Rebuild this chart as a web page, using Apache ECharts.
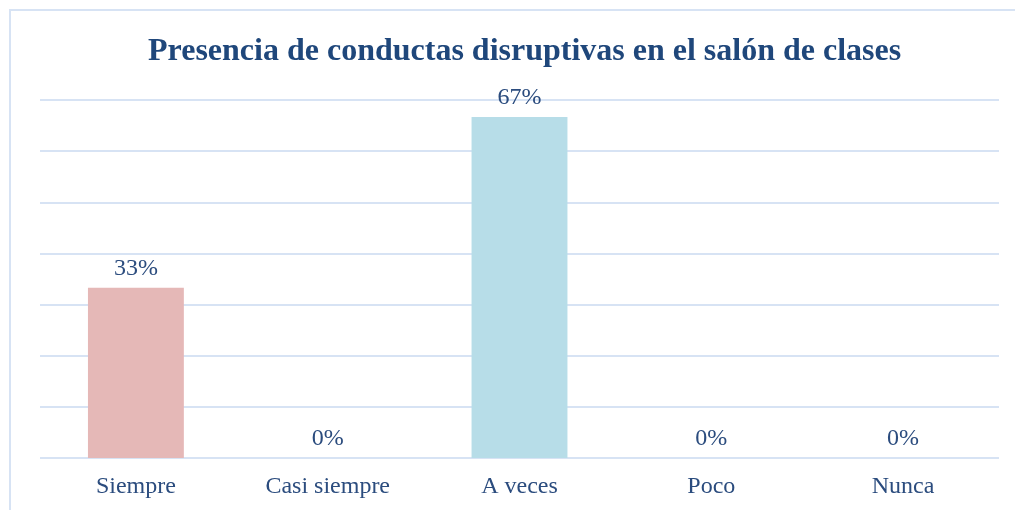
<!DOCTYPE html>
<html>
<head>
<meta charset="utf-8">
<script src="https://cdn.jsdelivr.net/npm/echarts@6/dist/echarts.min.js"></script>
<style>
html,body{margin:0;padding:0;background:#fff;}
#c{width:1015px;height:510px;}
</style>
</head>
<body>
<div id="c"></div>
<script>
const titleText = 'Presencia de conductas disruptivas en el salón de clases';
const categories = ['Siempre', 'Casi siempre', 'A veces', 'Poco', 'Nunca'];
const values = [33.3, 0, 66.7, 0, 0];
const barColors = ['#e5b8b7', '#d7e4bd', '#b7dde8', '#ccc1da', '#fcd5b5'];
const yTicks = [0, 10, 20, 30, 40, 50, 60, 70];

const chart = echarts.init(document.getElementById('c'));
chart.setOption({
  animation: false,
  backgroundColor: '#ffffff',
  title: {
    text: titleText,
    left: 143,
    top: 31,
    textStyle: {
      fontFamily: 'Liberation Serif',
      fontWeight: 'bold',
      fontSize: 32,
      color: '#1f477b'
    }
  },
  graphic: [{
    type: 'rect',
    shape: { x: 10, y: 10, width: 1200, height: 700 },
    style: { fill: 'none', stroke: '#d7e3f4', lineWidth: 2 },
    silent: true
  }],
  grid: { left: 40, right: 16, top: 100, bottom: 52, containLabel: false },
  xAxis: {
    type: 'category',
    data: categories,
    axisLine: { show: false },
    axisTick: { show: false },
    axisLabel: {
      margin: 17,
      fontFamily: 'Liberation Serif',
      fontSize: 24,
      color: '#2b4c7e'
    }
  },
  yAxis: {
    type: 'value',
    min: yTicks[0],
    max: yTicks[yTicks.length - 1],
    interval: yTicks[1] - yTicks[0],
    axisLabel: { show: false },
    axisLine: { show: false },
    axisTick: { show: false },
    splitLine: { lineStyle: { color: '#d7e3f4', width: 2 } }
  },
  series: [{
    type: 'bar',
    barWidth: '50%',
    data: values.map((v, i) => ({ value: v, itemStyle: { color: barColors[i] } })),
    label: {
      show: true,
      position: 'top',
      distance: 7,
      fontFamily: 'Liberation Serif',
      fontSize: 24,
      color: '#2b4c7e',
      formatter: p => Math.round(p.value) + '%'
    }
  }]
});
</script>
</body>
</html>
